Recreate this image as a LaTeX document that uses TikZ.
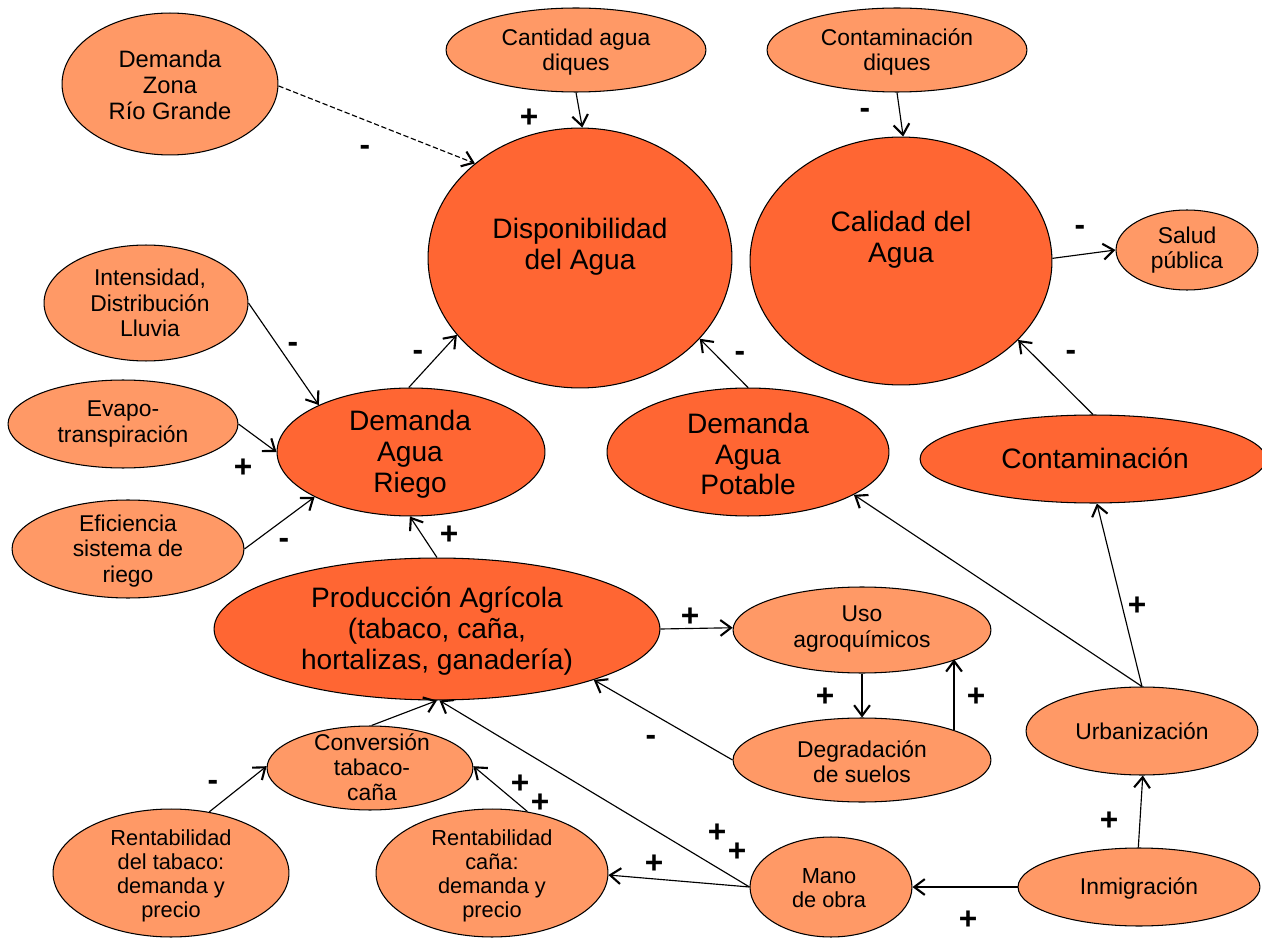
\documentclass[tikz,border=0pt]{standalone}
\usepackage{fontspec}
\setmainfont{Liberation Sans}
\usetikzlibrary{shapes.geometric,arrows.meta}
\definecolor{dk}{RGB}{255,102,51}
\definecolor{lt}{RGB}{255,153,102}
\begin{document}
\begin{tikzpicture}[x=0.02cm,y=-0.02cm,
 sz/.style 2 args={minimum width=#1*0.04cm, minimum height=#2*0.04cm},
 ell/.style={ellipse, draw=black, line width=0.6pt, inner sep=0pt},
 big/.style={ell, fill=dk},
 sml/.style={ell, fill=lt},
 bt/.style={align=center, font=\fontsize{16}{17.6}\selectfont, inner sep=0pt},
 st/.style={align=center, font=\fontsize{13}{14.4}\selectfont, inner sep=0pt},
 rt/.style={align=center, font=\fontsize{12.4}{13.6}\selectfont, inner sep=0pt},
 con/.style={-{Straight Barb[length=6pt,width=9pt,line width=1.2pt]}, line width=0.65pt},
 sg/.style={font=\fontsize{18}{18}\selectfont\bfseries, inner sep=0pt}]
\useasboundingbox (0,0) rectangle (1262,939);

% ellipses
\node[sml, sz={108}{71}] (rio) at (170,84) {};
\node[st, font=\fontsize{13.5}{14.6}\selectfont] (trio) at (170,85) {Demanda\\Zona\\ Río Grande};
\node[sml, sz={130}{42}] (cant) at (576,50) {};
\node[st] (tcant) at (576,52) {Cantidad agua\\diques};
\node[sml, sz={130}{42}] (contd) at (897,50) {};
\node[st] (tcontd) at (897,52) {Contaminación\\diques};
\node[big, sz={152}{130}] (disp) at (580,258) {};
\node[bt] (tdisp) at (580,247) {Disponibilidad\\del Agua};
\node[big, sz={151}{124}] (cal) at (901,261) {};
\node[bt] (tcal) at (901,240) {Calidad del\\Agua};
\node[sml, sz={71}{40}] (salud) at (1187,250) {};
\node[st] (tsalud) at (1187,250) {Salud\\pública};
\node[sml, sz={102}{58}] (int) at (146,303) {};
\node[st] (tint) at (150,303) {Intensidad,\\Distribución\\Lluvia};
\node[sml, sz={115}{44}] (evap) at (123,424) {};
\node[st] (tevap) at (123,424) {Evapo-\\transpiración};
\node[sml, sz={116}{49}] (efi) at (128,549) {};
\node[st] (tefi) at (128,551) {Eficiencia\\sistema de\\riego};
\node[big, sz={134}{64}] (riego) at (411,452) {};
\node[bt] (triego) at (410,454) {Demanda\\Agua\\Riego};
\node[big, sz={141}{64}] (pot) at (748,452) {};
\node[bt] (tpot) at (748,454) {Demanda\\Agua\\Potable};
\node[big, sz={173}{44}] (cont) at (1093,459) {};
\node[bt] (tcont) at (1095,458) {Contaminación};
\node[big, sz={223}{71}] (prod) at (437,629) {};
\node[bt] (tprod) at (437,631) {Producción Agrícola\\(tabaco, caña,\\hortalizas, ganadería)};
\node[sml, sz={129}{43}] (uso) at (862,630) {};
\node[st] (tuso) at (862,629) {Uso\\agroquímicos};
\node[sml, sz={129}{42}] (deg) at (862,760) {};
\node[st] (tdeg) at (862,762) {Degradación\\de suelos};
\node[sml, sz={116}{44}] (urb) at (1142,731) {};
\node[st] (turb) at (1142,731) {Urbanización};
\node[sml, sz={103}{42}] (conv) at (370,768) {};
\node[st] (tconv) at (372,767) {Conversión\\tabaco-\\caña};
\node[sml, sz={118}{64}] (rtab) at (171,873) {};
\node[rt] (trtab) at (171,876) {Rentabilidad\\del tabaco:\\demanda y\\precio};
\node[sml, sz={116}{64}] (rcan) at (492,873) {};
\node[rt] (trcan) at (492,876) {Rentabilidad\\caña:\\demanda y\\precio};
\node[sml, sz={81}{50}] (mano) at (831,887) {};
\node[rt] (tmano) at (829,888) {Mano\\de obra};
\node[sml, sz={121}{39}] (inm) at (1139,887) {};
\node[st] (tinm) at (1139,888) {Inmigración};

% connectors
\draw[con, dashed, dash pattern=on 3pt off 1.5pt] (rio.-1) -- (disp.138);
\draw[con] (cant.-90) -- (disp.89);
\draw[con] (contd.-90) -- (cal.89);
\draw[con] (cal.1.5) -- (salud.180);
\draw[con] (int.0) -- (riego.153);
\draw[con] (evap.0) -- (riego.180);
\draw[con] (efi.0) -- (riego.205);
\draw[con] (riego.92.6) -- (disp.212.5);
\draw[con] (pot.90) -- (disp.-34.8);
\draw[con] (cont.90) -- (cal.-34.8);
\draw[con] (prod.90) -- (riego.-91);
\draw[con] (prod.0) -- (uso.179);
\draw[con] (uso.-90) -- (deg.90);
\draw[con] (deg.18.2) -- (deg.18.2 |- uso.-17.6);
\draw[con] (deg.180) -- (prod.-18.1);
\draw[con] (urb.90) -- (pot.-22.9);
\draw[con] (urb.90) -- (cont.-85);
\draw[con] (inm.91) -- (urb.-89);
\draw[con] (inm.180) -- (mano.0);
\draw[con] (mano.180) -- (rcan.-1.5);
\draw[con] (mano.180) -- (prod.-88);
\draw[con] (conv.88) -- (prod.-90);
\draw[con] (rtab.58) -- (conv.179);
\draw[con] (rcan.60) -- (conv.1.7);

% signs
\node[sg] (s1) at (365,150) {-};
\node[sg] (s2) at (529,118) {+};
\node[sg] (s3) at (865,113) {-};
\node[sg] (s4) at (1080,230) {-};
\node[sg] (s5) at (293,347) {-};
\node[sg] (s6) at (243,468) {+};
\node[sg] (s7) at (284,543) {-};
\node[sg] (s8) at (418,355) {-};
\node[sg] (s9) at (740,356) {-};
\node[sg] (s10) at (1071,355) {-};
\node[sg] (s11) at (449,535) {+};
\node[sg] (s12) at (690,617) {+};
\node[sg] (s13) at (825,697) {+};
\node[sg] (s14) at (976,697) {+};
\node[sg] (s15) at (651,740) {-};
\node[sg] (s16) at (1137,606) {+};
\node[sg] (s17) at (1109,821) {+};
\node[sg] (s18) at (968,920) {+};
\node[sg] (s19) at (654,864) {+};
\node[sg] (s20) at (717,833) {+};
\node[sg] (s21) at (737,852) {+};
\node[sg] (s22) at (213,785) {-};
\node[sg] (s23) at (520,784) {+};
\node[sg] (s24) at (540,803) {+};
\end{tikzpicture}
\end{document}
